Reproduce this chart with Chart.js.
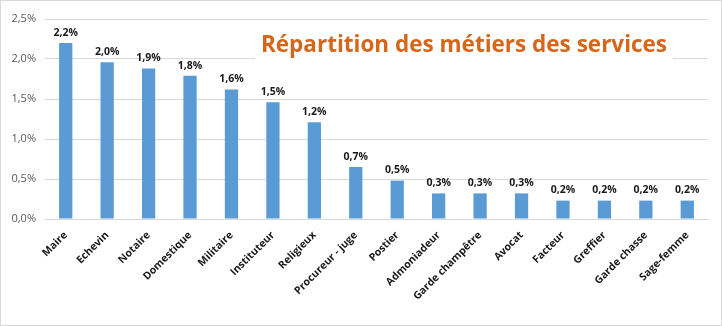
<!DOCTYPE html>
<html>
<head>
<meta charset="utf-8">
<script src="https://cdn.jsdelivr.net/npm/chart.js@4/dist/chart.umd.min.js"></script>
<style>
  html, body { margin: 0; padding: 0; background: #fff; }
  #wrap {
    width: 722px; height: 326px; box-sizing: border-box;
    border: 1px solid #d9d9d9; position: relative;
  }
  #metiers { display: block; }
</style>
</head>
<body>
<div id="wrap"><canvas id="metiers" width="720" height="324"></canvas></div>
<script>
const metiers = [
  "Maire", "Echevin", "Notaire", "Domestique", "Militaire", "Instituteur",
  "Religieux", "Procureur - juge", "Postier", "Admoniadeur", "Garde champêtre",
  "Avocat", "Facteur", "Greffier", "Garde chasse", "Sage-femme"
];
// part de chaque métier, en %
const parts = [
  2.2, 1.96, 1.88, 1.79, 1.62, 1.46,
  1.21, 0.65, 0.48, 0.32, 0.32,
  0.32, 0.23, 0.23, 0.23, 0.23
];
const yTicks = [0, 0.5, 1.0, 1.5, 2.0, 2.5];
const titre = "Répartition des métiers des services";

const pct = v => v.toFixed(1).replace(".", ",") + "%";

// valeurs au-dessus des barres
const barLabels = {
  id: "barLabels",
  afterDatasetsDraw(chart) {
    const { ctx } = chart;
    const meta = chart.getDatasetMeta(0);
    ctx.save();
    ctx.font = "bold 10.5px 'Open Sans', sans-serif";
    ctx.fillStyle = "#1a1a1a";
    ctx.textAlign = "center";
    ctx.textBaseline = "bottom";
    meta.data.forEach((bar, i) => {
      ctx.fillText(pct(parts[i]), bar.x, bar.y - 5);
    });
    ctx.restore();
  }
};

// titre posé dans le graphique, sur fond blanc
const titlePlugin = {
  id: "titlePlugin",
  afterDraw(chart) {
    const { ctx } = chart;
    ctx.save();
    ctx.font = "bold 22.5px 'Open Sans', sans-serif";
    const w = ctx.measureText(titre).width;
    const cx = 463, cy = 45;
    ctx.fillStyle = "#fff";
    ctx.fillRect(cx - w / 2 - 6, cy - 17, w + 12, 34);
    ctx.fillStyle = "#D5661A";
    ctx.textAlign = "center";
    ctx.textBaseline = "middle";
    ctx.fillText(titre, cx, cy);
    ctx.restore();
  }
};

new Chart(document.getElementById("metiers"), {
  type: "bar",
  data: {
    labels: metiers,
    datasets: [{
      data: parts,
      backgroundColor: "#5B9BD5",
      barPercentage: 0.32,
      categoryPercentage: 1.0
    }]
  },
  options: {
    responsive: false,
    animation: false,
    layout: { padding: { top: 18, right: 13, left: 0, bottom: 0 } },
    plugins: { legend: { display: false }, tooltip: { enabled: false } },
    scales: {
      x: {
        grid: { display: false },
        border: { color: "#d9d9d9" },
        ticks: {
          color: "#1a1a1a",
          font: { family: "'Open Sans', sans-serif", size: 10.5, weight: "bold" },
          maxRotation: 45, minRotation: 45, autoSkip: false, padding: 2
        },
        afterFit(scale) { scale.height = 106; }
      },
      y: {
        min: 0, max: 2.5,
        afterBuildTicks(scale) { scale.ticks = yTicks.map(v => ({ value: v })); },
        grid: { color: "#d9d9d9", drawTicks: false },
        border: { display: false },
        ticks: {
          color: "#595959",
          font: { family: "'Open Sans', sans-serif", size: 11 },
          padding: 9,
          callback: v => pct(v)
        },
        afterFit(scale) { scale.width = 44; }
      }
    }
  },
  plugins: [barLabels, titlePlugin]
});
</script>
</body>
</html>
